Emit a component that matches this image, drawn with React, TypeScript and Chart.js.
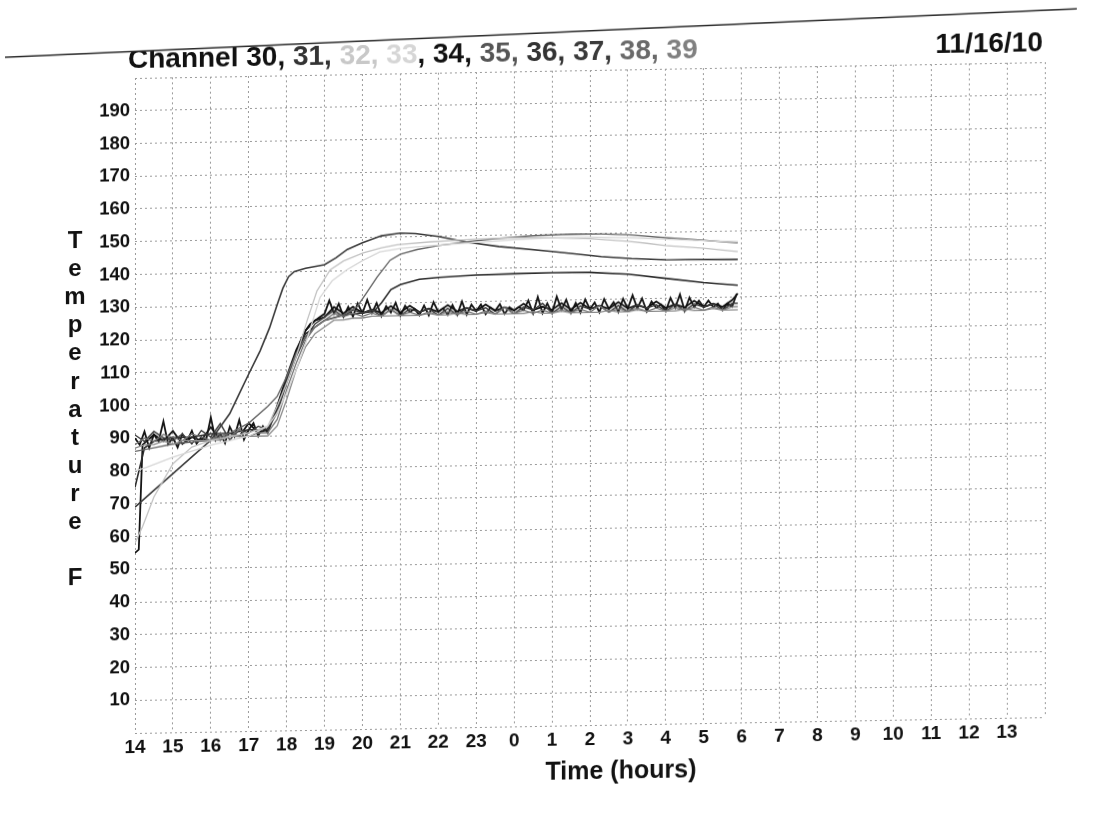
import React, { useEffect, useRef } from "react";
import { Chart, registerables } from "chart.js";

Chart.register(...registerables);

const FONT = '"Liberation Sans", Arial, Helvetica, sans-serif';

// ---- text ----
const TITLE_PARTS: [string, string][] = [
  ["Channel 30, ", "#111111"],
  ["31, ", "#333333"],
  ["32, ", "#c8c8c8"],
  ["33", "#d6d6d6"],
  [", 34, ", "#111111"],
  ["35, ", "#555555"],
  ["36, ", "#333333"],
  ["37, ", "#3a3a3a"],
  ["38, ", "#6a6a6a"],
  ["39", "#808080"],
];
const DATE_LABEL = "11/16/10";
const X_TITLE = "Time (hours)";
const Y_TITLE_LETTERS = ["T", "e", "m", "p", "e", "r", "a", "t", "u", "r", "e", "", "F"];
const X_TICK_LABELS = [
  "14", "15", "16", "17", "18", "19", "20", "21", "22", "23",
  "0", "1", "2", "3", "4", "5", "6", "7", "8", "9", "10", "11", "12", "13",
];
const Y_HIDDEN_TICKS = [0, 200];

// ---- time grids (hours since 14:00) ----
const T_Q = [
  0, 0.25, 0.5, 0.75,
  1, 1.25, 1.5, 1.75,
  2, 2.25, 2.5, 2.75,
  3, 3.25, 3.5, 3.75,
  4, 4.25, 4.5, 4.75,
  5, 5.25, 5.5, 5.75,
  6, 6.25, 6.5, 6.75,
  7, 7.25, 7.5, 7.75,
  8, 8.25, 8.5, 8.75,
  9, 9.25, 9.5, 9.75,
  10, 10.25, 10.5, 10.75,
  11, 11.25, 11.5, 11.75,
  12, 12.25, 12.5, 12.75,
  13, 13.25, 13.5, 13.75,
  14, 14.25, 14.5, 14.75,
  15, 15.25, 15.5, 15.75,
  15.9,
];

const T_E = [
  0, 0.125, 0.25, 0.375, 0.5, 0.625, 0.75, 0.875,
  1, 1.125, 1.25, 1.375, 1.5, 1.625, 1.75, 1.875,
  2, 2.125, 2.25, 2.375, 2.5, 2.625, 2.75, 2.875,
  3, 3.125, 3.25, 3.375, 3.5, 3.625, 3.75, 3.875,
  4, 4.125, 4.25, 4.375, 4.5, 4.625, 4.75, 4.875,
  5, 5.125, 5.25, 5.375, 5.5, 5.625, 5.75, 5.875,
  6, 6.125, 6.25, 6.375, 6.5, 6.625, 6.75, 6.875,
  7, 7.125, 7.25, 7.375, 7.5, 7.625, 7.75, 7.875,
  8, 8.125, 8.25, 8.375, 8.5, 8.625, 8.75, 8.875,
  9, 9.125, 9.25, 9.375, 9.5, 9.625, 9.75, 9.875,
  10, 10.125, 10.25, 10.375, 10.5, 10.625, 10.75, 10.875,
  11, 11.125, 11.25, 11.375, 11.5, 11.625, 11.75, 11.875,
  12, 12.125, 12.25, 12.375, 12.5, 12.625, 12.75, 12.875,
  13, 13.125, 13.25, 13.375, 13.5, 13.625, 13.75, 13.875,
  14, 14.125, 14.25, 14.375, 14.5, 14.625, 14.75, 14.875,
  15, 15.125, 15.25, 15.375, 15.5, 15.625, 15.75, 15.875,
];

// ---- channel values (deg F) ----
const S30_T = [0, 0.1, 0.2, ...T_Q.slice(2)];
const S30 = [
  55, 56, 88, 91, 89,
  92, 88, 90, 89,
  93, 89, 91, 90,
  94, 91, 92, 99,
  108, 116, 122, 125,
  126, 129, 127, 129,
  127, 128, 127, 129,
  127, 129, 127, 128,
  127, 129, 127, 128,
  127, 129, 127, 128,
  127, 129, 127, 128,
  127, 129, 127, 129,
  127, 128, 127, 129,
  127, 128, 127, 129,
  127, 128, 127, 129,
  127, 128, 127, 129,
  131,
];

const S31_T = [0, 0.25, 0.5, 1, 1.5, 2, 2.5, 3, 3.5, 3.75, 4, 4.25, 4.5, 5, 5.5, 6, 6.3, 6.5, 6.75, 7, 7.5, 8, 9, 10, 11, 12, 13, 14, 15, 15.9];
const S31 = [75, 87, 89, 90, 90, 91, 91, 92, 92, 98, 107, 115, 121, 125, 126.5, 127, 127.5, 130, 134, 135.5, 137, 137.5, 138, 138.2, 138.3, 138.2, 137.5, 136, 134.5, 133.5];

const S32_T = [0, 0.2, 0.5, 1, 1.5, 2, 2.5, 3, 3.5, 3.75, 4, 4.25, 4.54, 4.8, 5.15, 5.5, 6.02, 6.5, 6.91, 7.78, 9, 10, 11, 12, 13, 13.5, 14, 15, 15.9];
const S32 = [58, 63, 72, 82, 87, 89, 90, 91, 93, 99, 106, 114, 125, 134, 140.4, 143, 145.4, 146.8, 147.7, 148.4, 149, 149.2, 149, 148.5, 147.5, 146.8, 146, 145, 143.8];

const S33_T = [0, 0.3, 1, 2, 3, 3.5, 3.75, 4, 4.25, 4.5, 4.88, 5.2, 5.59, 6, 6.46, 7, 7.78, 9, 10, 11, 12, 13, 14, 15, 15.9];
const S33 = [80, 81, 84, 87.5, 90, 93, 97, 103, 110, 118, 132, 137, 140.3, 143, 145.6, 146.5, 147.2, 148, 148.6, 149, 149, 148.6, 148, 147.3, 146.8];

const S34 = [
  90, 88, 92, 87, 91, 89, 95, 88,
  90, 87, 91, 89, 92, 88, 90, 89,
  96, 89, 91, 88, 93, 90, 95, 89,
  92, 94, 90, 93, 91, 95, 99, 103,
  107, 111, 115, 119, 122, 124, 125, 126,
  127, 131, 127, 130, 126, 129, 126, 130,
  127, 131, 127, 130, 126, 129, 127, 130,
  126, 129, 127, 128, 126, 129, 126, 130,
  127, 128, 126, 129, 126, 130, 126, 129,
  127, 129, 126, 128, 127, 129, 126, 128,
  127, 128, 127, 130, 126, 131, 126, 129,
  126, 131, 127, 130, 126, 129, 126, 130,
  127, 129, 126, 130, 127, 129, 126, 130,
  127, 131, 127, 130, 126, 129, 127, 128,
  126, 130, 127, 131, 126, 130, 127, 129,
  127, 129, 127, 128, 126, 128, 127, 131,
];

const S35_T = [0, 0.5, 1, 1.5, 2, 2.5, 3, 3.5, 3.75, 4, 4.25, 4.5, 4.75, 5, 5.5, 5.86, 6.1, 6.39, 6.73, 7, 7.44, 8, 8.76, 9.5, 10.5, 11.5, 12.3, 13, 14, 15, 15.9];
const S35 = [86, 87, 88, 88.5, 89, 91, 94, 99, 102, 108, 115, 120, 123, 125, 126.5, 129, 133, 138, 143, 144.8, 146.1, 147.2, 148.2, 149, 149.7, 150, 149.9, 149.5, 148.4, 147.4, 146.5];

const S36_T = [0, 0.5, 1, 1.5, 2, 2.5, 2.75, 3, 3.3, 3.55, 3.75, 3.9, 4.05, 4.2, 4.5, 5, 5.3, 5.6, 6, 6.5, 7, 7.4, 8, 8.8, 9.6, 11, 12.3, 13.1, 14, 15.9];
const S36 = [69, 74, 79, 84, 89, 97, 103, 109, 116, 123, 130, 135, 138.5, 140, 141, 142, 144, 146.5, 148.5, 150.5, 151.2, 151, 150, 148, 146.6, 144.8, 143, 142.2, 141.7, 141.4];

const S37 = [
  91, 89, 92, 90,
  89, 91, 88, 92,
  90, 94, 89, 92,
  91, 93, 92, 97,
  106, 114, 120, 124,
  126, 128, 126, 128,
  127, 128, 126, 128,
  126, 128, 127, 128,
  126, 128, 126, 128,
  127, 128, 126, 128,
  126, 128, 127, 129,
  126, 128, 126, 128,
  127, 128, 126, 128,
  126, 128, 127, 128,
  126, 128, 126, 128,
  127, 128, 126, 128,
  128,
];

const S38 = [
  88, 90, 89, 91,
  90, 89, 91, 90,
  89, 91, 90, 92,
  90, 91, 91, 95,
  104, 112, 119, 123,
  125, 127, 126, 127,
  126, 127, 126, 128,
  126, 127, 126, 127,
  126, 127, 126, 127,
  126, 127, 126, 128,
  126, 127, 126, 127,
  126, 127, 126, 127,
  126, 128, 126, 127,
  126, 127, 126, 127,
  126, 127, 126, 127,
  126, 127, 126, 127,
  127,
];

const S39 = [
  87, 88, 88, 89,
  88, 89, 89, 89,
  89, 89, 90, 90,
  90, 90, 90, 93,
  101, 110, 117, 121,
  123, 125, 125, 125.5,
  125.5, 126, 126, 126,
  126, 126, 126, 126.5,
  126, 126, 126.5, 126,
  126, 126.5, 126, 126,
  126, 126, 126.5, 126,
  126, 126.5, 126, 126,
  126, 126, 126.5, 126,
  126, 126.5, 126, 126,
  126, 126, 126.5, 126,
  126, 126.5, 126, 126,
  126,
];

// ---- series styling (drawn in this order, last on top) ----
const SERIES: { name: string; times: number[]; values: number[]; color: string; width: number }[] = [
  { name: "33", times: S33_T, values: S33, color: "#d6d6d6", width: 1.3 },
  { name: "32", times: S32_T, values: S32, color: "#c2c2c2", width: 1.3 },
  { name: "39", times: T_Q, values: S39, color: "#8a8a8a", width: 1.3 },
  { name: "38", times: T_Q, values: S38, color: "#747474", width: 1.3 },
  { name: "35", times: S35_T, values: S35, color: "#666666", width: 1.4 },
  { name: "37", times: T_Q, values: S37, color: "#3c3c3c", width: 1.4 },
  { name: "31", times: S31_T, values: S31, color: "#2c2c2c", width: 1.6 },
  { name: "36", times: S36_T, values: S36, color: "#3a3a3a", width: 1.6 },
  { name: "30", times: S30_T, values: S30, color: "#111111", width: 1.8 },
  { name: "34", times: T_E, values: S34, color: "#151515", width: 1.8 },
];

const overlayPlugin = {
  id: "scanOverlay",
  afterDraw(chart: any) {
    const ctx: CanvasRenderingContext2D = chart.ctx;
    ctx.save();
    // title
    ctx.textBaseline = "alphabetic";
    ctx.textAlign = "left";
    ctx.font = `bold 28px ${FONT}`;
    let x = 128;
    for (const [txt, col] of TITLE_PARTS) {
      ctx.fillStyle = col;
      ctx.fillText(txt, x, 68);
      x += ctx.measureText(txt).width;
    }
    // date
    ctx.fillStyle = "#111111";
    ctx.textAlign = "right";
    ctx.fillText(DATE_LABEL, 1043, 67);
    // vertical y title
    ctx.textAlign = "center";
    ctx.font = `bold 24px ${FONT}`;
    Y_TITLE_LETTERS.forEach((ch, i) => {
      if (ch) ctx.fillText(ch, 75, 247 + i * 28.1);
    });
    // x title
    ctx.font = `bold 25px ${FONT}`;
    ctx.fillText(X_TITLE, 621, 787);
    // overlapping page edge
    ctx.fillStyle = "#ffffff";
    ctx.beginPath();
    ctx.moveTo(0, 0);
    ctx.lineTo(1106, 0);
    ctx.lineTo(1106, 24.4);
    ctx.lineTo(0, 55.2);
    ctx.closePath();
    ctx.fill();
    ctx.strokeStyle = "#2a2a2a";
    ctx.lineWidth = 1.5;
    ctx.beginPath();
    ctx.moveTo(5, 55.1);
    ctx.lineTo(1077, 25.2);
    ctx.stroke();
    ctx.restore();
  },
};

export default function App() {
  const canvasRef = useRef<HTMLCanvasElement>(null);

  useEffect(() => {
    const canvas = canvasRef.current;
    if (!canvas) return;
    const datasets = SERIES.map((s) => ({
      label: "Channel " + s.name,
      data: s.times.map((t, i) => ({ x: t, y: s.values[i] })),
      borderColor: s.color,
      backgroundColor: s.color,
      borderWidth: s.width,
      pointRadius: 0,
      tension: 0,
      fill: false,
    }));
    const gridStyle = { color: "#9a9a9a", lineWidth: 1, drawTicks: false };
    const chart = new Chart(canvas, {
      type: "line",
      data: { datasets },
      options: {
        responsive: false,
        animation: false,
        devicePixelRatio: 1,
        layout: { padding: { left: 0, right: 61, top: 78, bottom: 0 } },
        plugins: {
          legend: { display: false },
          title: { display: false },
          tooltip: { enabled: false },
        },
        scales: {
          x: {
            type: "linear",
            min: 0,
            max: 24,
            grid: gridStyle,
            border: { display: false, dash: [2, 3] },
            ticks: {
              stepSize: 1,
              maxTicksLimit: 100,
              autoSkip: false,
              maxRotation: 0,
              padding: 3,
              color: "#111111",
              font: { family: FONT, size: 19, weight: "bold" },
              callback: (v: any) => X_TICK_LABELS[v as number] ?? "",
            },
            afterFit: (scale: any) => {
              scale.height = 85;
            },
          },
          y: {
            type: "linear",
            min: 0,
            max: 200,
            grid: gridStyle,
            border: { display: false, dash: [2, 3] },
            ticks: {
              stepSize: 10,
              maxTicksLimit: 100,
              autoSkip: false,
              padding: 5,
              color: "#111111",
              font: { family: FONT, size: 18.5, weight: "bold" },
              callback: (v: any) => (Y_HIDDEN_TICKS.includes(v as number) ? "" : String(v)),
            },
            afterFit: (scale: any) => {
              scale.width = 135;
            },
          },
        },
      } as any,
      plugins: [overlayPlugin],
    });
    return () => chart.destroy();
  }, []);

  return (
    <div
      style={{
        position: "absolute",
        left: 0,
        top: 0,
        width: 1106,
        height: 818,
        background: "#ffffff",
        overflow: "hidden",
      }}
    >
      <div
        style={{
          position: "absolute",
          left: 0,
          top: 0,
          width: 1106,
          height: 818,
          transform: "skewY(-1deg)",
          transformOrigin: "135px 0px",
        }}
      >
        <canvas ref={canvasRef} width={1106} height={818} style={{ display: "block", width: 1106, height: 818 }} />
      </div>
    </div>
  );
}
